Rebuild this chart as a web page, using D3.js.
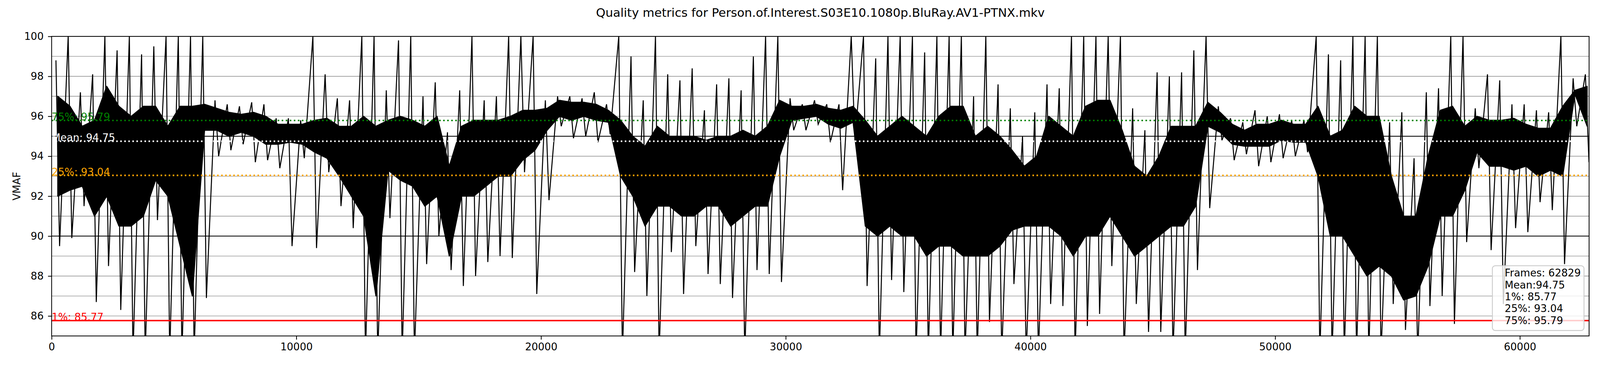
<!DOCTYPE html>
<html>
<head>
<meta charset="utf-8">
<script src="https://cdn.jsdelivr.net/npm/d3@7"></script>
<style>
  html, body { margin: 0; padding: 0; overflow: hidden; background: #fff; }
  #chart svg { display: block; width: 100vw; height: 100vh; }
  svg { font-family: "DejaVu Sans", sans-serif; }
</style>
</head>
<body>
<div id="chart"></div>
<script>
// per-bin readings of the VMAF trace, one entry per 500 frames
const binSize = 500
const frameCount = 62829

// highest and lowest value reached in each bin (84 = goes below the axis)
const vmafHi = [
  98.8, 100, 97.2, 98.1, 100, 99.3, 100, 99.1, 99.5, 100,
  100, 100, 100, 96.8, 96.6, 96.5, 96.7, 96.6, 95.9, 95.9,
  95.8, 100, 98.1, 96.9, 96.8, 100, 100, 97.3, 99.8, 100,
  97.0, 97.7, 95.2, 97.3, 100, 96.8, 97.0, 100, 100, 100,
  96.8, 97.0, 97.0, 96.9, 97.2, 96.6, 100, 99.0, 96.8, 100,
  98.1, 97.8, 98.4, 96.3, 97.6, 97.9, 97.3, 99.0, 100, 100,
  96.9, 96.6, 96.8, 96.6, 96.6, 100, 100, 98.9, 100, 100,
  100, 99.2, 100, 100, 100, 97.0, 100, 97.6, 96.4, 95.0,
  96.2, 97.6, 97.4, 100, 100, 100, 100, 100, 96.4, 95.3,
  98.2, 98.0, 98.2, 99.3, 100, 96.5, 95.9, 95.7, 96.3, 96.0,
  96.1, 95.8, 95.8, 100, 99.1, 98.8, 100, 100, 100, 95.7,
  96.2, 93.9, 97.2, 97.4, 100, 100, 96.4, 98.1, 97.8, 96.6,
  96.6, 96.3, 96.2, 100, 97.9, 98.1
]
const vmafLo = [
  89.5, 89.9, 91.5, 86.7, 88.5, 86.3, 84, 84, 90.8, 84,
  84, 84, 86.9, 94.0, 94.3, 94.6, 93.7, 93.8, 93.4, 89.5,
  93.9, 89.4, 93.2, 91.5, 90.4, 84, 84, 90.9, 84, 84,
  88.6, 90.0, 88.3, 87.5, 88.0, 88.7, 89.0, 88.9, 93.2, 87.1,
  91.8, 95.5, 94.9, 95.0, 94.7, 95.1, 84, 88.2, 87.0, 84,
  89.2, 87.1, 89.5, 88.1, 87.6, 86.9, 84, 88.3, 88.1, 87.7,
  95.3, 95.3, 95.6, 94.7, 92.3, 94.8, 87.5, 84, 87.8, 87.2,
  84, 84, 84, 84, 84, 84, 85.7, 84, 87.6, 84,
  84, 86.6, 86.5, 84, 85.5, 86.1, 88.5, 84, 86.6, 85.2,
  85.2, 84, 84, 88.3, 91.4, 94.8, 93.8, 94.1, 93.5, 93.7,
  93.9, 94.0, 94.2, 84, 84, 84, 84, 84, 84, 86.6,
  85.3, 84, 86.5, 87.0, 85.6, 89.7, 93.4, 89.3, 86.6, 90.4,
  90.2, 91.7, 91.3, 88.6, 95.5, 93.7
]

// edges of the dense band in each bin
const coreHi = [
  97.0, 96.5, 95.5, 95.8, 97.5, 96.5, 96.0, 96.5, 96.5, 95.5,
  96.5, 96.5, 96.6, 96.4, 96.2, 96.1, 96.2, 96.0, 95.6, 95.6,
  95.6, 95.8, 95.9, 95.5, 95.5, 96.0, 95.5, 95.8, 96.0, 95.8,
  95.5, 96.0, 93.5, 95.5, 95.8, 95.8, 95.8, 96.0, 96.3, 96.3,
  96.4, 96.8, 96.7, 96.7, 96.6, 96.3, 95.8, 95.0, 94.5, 95.5,
  95.0, 95.0, 95.0, 94.8, 95.0, 95.0, 95.3, 95.0, 95.5, 96.8,
  96.5, 96.5, 96.6, 96.4, 96.3, 96.5, 95.8, 95.0, 95.5, 96.0,
  95.5, 95.0, 96.0, 96.5, 96.5, 95.0, 95.5, 95.0, 94.3, 93.5,
  94.0, 96.0, 95.5, 95.0, 96.5, 96.8, 96.8, 95.3, 93.5, 93.0,
  94.0, 95.5, 95.5, 95.5, 96.7, 96.2, 95.6, 95.3, 95.6, 95.6,
  95.8, 95.6, 95.6, 96.5, 95.0, 95.3, 96.5, 96.0, 96.0, 93.0,
  91.0, 91.0, 94.0, 96.3, 96.5, 95.5, 96.0, 95.8, 95.8, 95.9,
  95.6, 95.4, 95.4, 96.5, 97.3, 97.5
]
const coreLo = [
  92.0, 92.3, 92.5, 91.0, 92.0, 90.5, 90.5, 91.0, 92.8, 92.0,
  89.5, 87.0, 95.3, 95.3, 95.0, 95.2, 95.0, 94.6, 94.6, 94.7,
  94.6, 94.2, 93.9, 93.0, 92.0, 91.0, 87.0, 93.3, 92.8, 92.5,
  91.5, 92.0, 89.0, 92.0, 92.0, 92.5, 93.0, 93.0, 93.8, 94.3,
  95.3, 96.0, 95.8, 96.0, 95.8, 95.7, 93.0, 92.0, 90.5, 91.5,
  91.5, 91.0, 91.0, 91.5, 91.5, 90.5, 91.0, 91.5, 91.5, 94.0,
  95.8, 95.9, 96.0, 95.6, 95.4, 95.7, 90.5, 90.0, 90.5, 90.0,
  90.0, 89.0, 89.5, 89.5, 89.0, 89.0, 89.0, 89.5, 90.3, 90.5,
  90.5, 90.5, 90.0, 89.0, 90.0, 90.0, 91.0, 90.0, 89.0, 89.5,
  90.0, 90.5, 90.5, 91.5, 95.5, 95.2, 94.6, 94.5, 94.5, 94.5,
  94.8, 94.7, 94.7, 93.0, 90.0, 90.0, 89.0, 88.0, 88.5, 88.0,
  86.8, 87.0, 88.5, 91.0, 91.0, 92.3, 94.2, 93.5, 93.5, 93.3,
  93.5, 93.0, 93.3, 93.0, 97.1, 95.5
]

// summary statistics
const statNames  = ['1%', '25%', 'Mean', '75%']
const statValues = [85.77, 93.04, 94.75, 95.79]
const statColors = ['#ff0000', '#ffa500', '#ffffff', '#008000']
const legendLines = ['Frames: 62829', 'Mean:94.75', '1%: 85.77', '25%: 93.04', '75%: 95.79']

const yTicks = [86, 88, 90, 92, 94, 96, 98, 100]
const xTicks = [0, 10000, 20000, 30000, 40000, 50000, 60000]
const refLines = [90, 95]

const W = 4400, H = 1000
const margin = { top: 100, right: 30, bottom: 77, left: 142 }
const width  = W - margin.left - margin.right
const height = H - margin.top - margin.bottom

const bins = vmafHi.map((d, i) => ({
    frame: Math.min(i * binSize + binSize / 2, frameCount - 1),
    hi: d, lo: vmafLo[i], cHi: coreHi[i], cLo: coreLo[i]
}))

const xScale = d3.scaleLinear().domain([0, frameCount - 1]).range([0, width])
const yScale = d3.scaleLinear().domain([85, 100]).range([height, 0])

// viewBox so the whole figure fits the viewport, pinned to the top
const svgRoot = d3.select('#chart').append('svg')
    .attr('viewBox', `0 0 ${W} ${H}`)
    .attr('preserveAspectRatio', 'xMidYMin meet')

svgRoot.append('text')
    .attr('x', margin.left + width / 2)
    .attr('y', 46)
    .attr('text-anchor', 'middle')
    .style('font-size', '33px')
    .text('Quality metrics for Person.of.Interest.S03E10.1080p.BluRay.AV1-PTNX.mkv')

svgRoot.append('text')
    .attr('transform', `translate(56,${margin.top + height / 2}) rotate(-90)`)
    .attr('text-anchor', 'middle')
    .style('font-size', '28px')
    .text('VMAF')

const svg = svgRoot.append('g')
    .attr('transform', `translate(${margin.left},${margin.top})`)

svg.append('clipPath').attr('id', 'plot-clip')
    .append('rect').attr('width', width).attr('height', height)

// grid every 1 VMAF point
svg.append('g')
    .selectAll('line')
    .data(d3.range(86, 100))
    .join('line')
    .attr('x1', 0).attr('x2', width)
    .attr('y1', d => yScale(d)).attr('y2', d => yScale(d))
    .attr('stroke', '#888')
    .attr('stroke-width', 1.5)

svg.append('g')
    .selectAll('line')
    .data(refLines)
    .join('line')
    .attr('x1', 0).attr('x2', width)
    .attr('y1', d => yScale(d)).attr('y2', d => yScale(d))
    .attr('stroke', '#000')
    .attr('stroke-width', 2.2)

// the trace: dense band, then a stroke swinging between each bin's extremes
const plot = svg.append('g').attr('clip-path', 'url(#plot-clip)')

plot.append('path')
    .datum(bins)
    .attr('d', d3.area()
        .x(d => xScale(d.frame))
        .y0(d => yScale(d.cLo))
        .y1(d => yScale(d.cHi)))
    .attr('fill', '#000')
    .attr('stroke', '#000')
    .attr('stroke-width', 2.8)
    .attr('stroke-linejoin', 'round')

const swing = bins.flatMap(d => [
    { x: xScale(d.frame) - 5, y: yScale(d.hi) },
    { x: xScale(d.frame) + 5, y: yScale(d.lo) }
])

plot.append('path')
    .datum(swing)
    .attr('d', d3.line().x(d => d.x).y(d => d.y))
    .attr('fill', 'none')
    .attr('stroke', '#000')
    .attr('stroke-width', 2.8)

// percentile and mean lines
svg.append('g')
    .selectAll('line')
    .data(statValues)
    .join('line')
    .attr('x1', 0).attr('x2', width)
    .attr('y1', d => yScale(d)).attr('y2', d => yScale(d))
    .attr('stroke', (d, i) => statColors[i])
    .attr('stroke-width', 4.2)
    .attr('stroke-dasharray', (d, i) => i === 0 ? null : '4.2,6.9')

svg.append('g')
    .selectAll('text')
    .data(statValues)
    .join('text')
    .attr('x', 0)
    .attr('y', d => yScale(d))
    .attr('fill', (d, i) => statColors[i])
    .style('font-size', '28px')
    .text((d, i) => statNames[i] + ': ' + d.toFixed(2))

// axes
svg.append('g')
    .attr('transform', `translate(0,${height})`)
    .call(d3.axisBottom(xScale).tickValues(xTicks).tickSize(10).tickPadding(10).tickFormat(d3.format('d')))
    .call(g => g.select('.domain').remove())
    .call(g => g.selectAll('.tick line').attr('stroke-width', 2.2))
    .selectAll('text')
        .style('font-size', '28px')
        .style('font-family', '"DejaVu Sans", sans-serif')

svg.append('g')
    .call(d3.axisLeft(yScale).tickValues(yTicks).tickSize(10).tickPadding(12))
    .call(g => g.select('.domain').remove())
    .call(g => g.selectAll('.tick line').attr('stroke-width', 2.2))
    .selectAll('text')
        .style('font-size', '28px')
        .style('font-family', '"DejaVu Sans", sans-serif')

svg.append('rect')
    .attr('width', width).attr('height', height)
    .attr('fill', 'none')
    .attr('stroke', '#000')
    .attr('stroke-width', 2.2)

// stats box
const legend = svg.append('g')
    .attr('transform', `translate(${width - 266},${height - 193})`)

legend.append('rect')
    .attr('width', 252).attr('height', 178)
    .attr('rx', 8)
    .attr('fill', '#fff').attr('fill-opacity', 0.8)
    .attr('stroke', '#cccccc')
    .attr('stroke-width', 2.5)

legend.selectAll('text')
    .data(legendLines)
    .join('text')
    .attr('x', 34)
    .attr('y', (d, i) => 30 + i * 32.5)
    .style('font-size', '28px')
    .text(d => d)
</script>
</body>
</html>
